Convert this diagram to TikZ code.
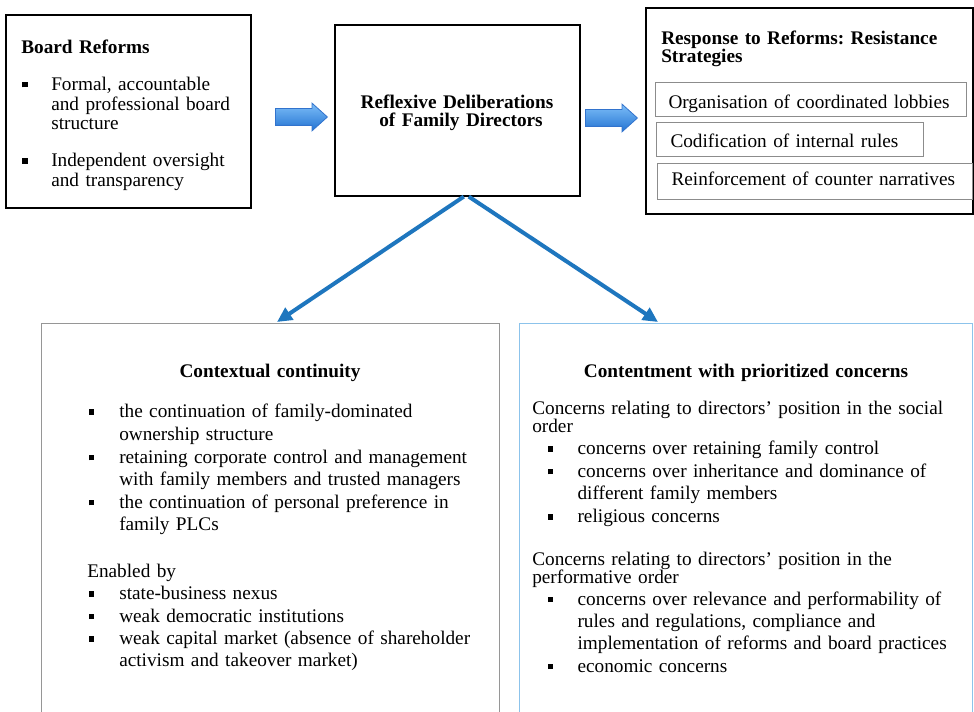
\documentclass[tikz,border=0pt]{standalone}
\usepackage{fontspec}
\setmainfont{Liberation Serif}
\usetikzlibrary{arrows.meta,shapes.arrows,calc}

\newlength\pxu
\setlength\pxu{0.75pt}
\definecolor{linkblue}{RGB}{30,118,190}
\definecolor{framegray}{RGB}{150,150,150}
\definecolor{innergray}{RGB}{140,140,140}
\definecolor{frameblue}{RGB}{140,195,235}
\definecolor{blocktop}{RGB}{125,190,248}
\definecolor{blockbottom}{RGB}{35,115,210}
\definecolor{blockedge}{RGB}{50,115,205}

% square bullet hanging to the left of an item's first line
\newcommand\sqbullet[1]{\leavevmode\llap{\rule[3\pxu]{5.5\pxu}{5.5\pxu}\hspace{#1}}}

\begin{document}
\frenchspacing
\begin{tikzpicture}[x=0.75pt, y=-0.75pt,
  frame/.style={draw=black, line width=1.2pt, anchor=north west, inner sep=0pt},
  softframe/.style={draw=framegray, line width=0.9pt, anchor=north west, inner sep=0pt},
  blueframe/.style={draw=frameblue, line width=0.9pt, anchor=north west, inner sep=0pt},
  txt/.style={anchor=base west, inner sep=0pt, text width=430\pxu, align=left,
    font=\fontsize{14.45}{16.7}\selectfont},
  head/.style={txt, font=\bfseries\fontsize{14.45}{13.3}\selectfont},
  chead/.style={anchor=base, inner sep=0pt, text width=440\pxu, align=center,
    font=\bfseries\fontsize{14.45}{13.5}\selectfont},
  tight/.style={font=\fontsize{14.45}{14.8}\selectfont},
  tighter/.style={font=\fontsize{14.45}{13.5}\selectfont},
  wide/.style={font=\fontsize{14.45}{16.75}\selectfont},
  stratbox/.style={draw=innergray, line width=0.75pt, anchor=base west, inner ysep=0pt,
    align=left, font=\fontsize{14.45}{16.7}\selectfont},
  blockarrow/.style={single arrow, draw=blockedge, line width=0.6pt,
    top color=blocktop, bottom color=blockbottom, anchor=tail,
    inner xsep=0pt, inner ysep=6pt,
    minimum height=39pt, minimum width=20.25pt,
    single arrow head extend=4.1pt, single arrow tip angle=84},
  linkarrow/.style={draw=linkblue, line width=3pt,
    -{Triangle[length=11.25pt, width=10.5pt]}}
]
\useasboundingbox (0,0) rectangle (974,712);
\clip (0,0) rectangle (974,712);

% ---------- frames ----------
\node[frame, minimum width=183.75pt, minimum height=144.75pt] (br) at (5,14) {};
\node[frame, minimum width=183.75pt, minimum height=128.25pt] (ctr) at (334,24) {};
\node[frame, minimum width=245.25pt, minimum height=154.5pt] (resp) at (645,7) {};
\node[softframe, minimum width=343.5pt, minimum height=315pt] (cc) at (41,323) {};
\node[blueframe, minimum width=339.75pt, minimum height=315pt] (cp) at (519,323) {};

% ---------- board reforms ----------
\node[head] (brT) at (21,54) {Board Reforms};
\node[txt, tight] (br1) at (51,90.5) {\sqbullet{23.5\pxu}Formal, accountable\\and professional board\\structure};
\node[txt, tight] (br2) at (51,166.7) {\sqbullet{23.5\pxu}Independent oversight\\and transparency};

% ---------- reflexive deliberations ----------
\node[chead] (ctrT) at (457,109) {Reflexive Deliberations\\\hspace*{8\pxu}of Family Directors};

% ---------- resistance strategies ----------
\node[head] (respT) at (661,45) {Response to Reforms: Resistance\\Strategies};
\node[stratbox, inner xsep=9.75pt, text width=213.75pt, text height=18.98pt, text depth=5.78pt]
  (s1) at (655,108.3) {\mbox{Organisation of coordinated lobbies}};
\node[stratbox, inner xsep=10.5pt, text width=179.25pt, text height=18.53pt, text depth=6.23pt]
  (s2) at (656,147.7) {\mbox{Codification of internal rules}};
\node[stratbox, inner xsep=10.5pt, text width=215.25pt, text height=16.28pt, text depth=9.98pt]
  (s3) at (657,185.7) {\mbox{Reinforcement of counter narratives}};

% ---------- block arrows ----------
\node[blockarrow] (ar1) at (275,117) {};
\node[blockarrow] (ar2) at (585,118) {};

% ---------- diverging arrows ----------
\coordinate (from1) at ($(ctr.south)+(6.5,0)$);
\coordinate (from2) at ($(ctr.south)+(11.5,0)$);
\coordinate (to1) at ($(cc.north west)+(236,-1)$);
\coordinate (to2) at ($(cp.north west)+(139,-1)$);
\draw[linkarrow] (from1) -- (to1);
\draw[linkarrow] (from2) -- (to2);

% ---------- contextual continuity ----------
\node[chead] (ccT) at (270,378) {Contextual continuity};
\node[txt, wide] (cc1) at (119,418) {\sqbullet{25\pxu}the continuation of family-dominated\\ownership structure};
\node[txt, wide] (cc2) at (119,463.5) {\sqbullet{25\pxu}retaining corporate control and management\\with family members and trusted managers};
\node[txt, wide] (cc3) at (119,508.5) {\sqbullet{25\pxu}the continuation of personal preference in\\family PLCs};
\node[txt] (ccE) at (87,577) {Enabled by};
\node[txt] (cc4) at (119,599.5) {\sqbullet{25\pxu}state-business nexus};
\node[txt] (cc5) at (119,622) {\sqbullet{25\pxu}weak democratic institutions};
\node[txt, wide] (cc6) at (119,644.5) {\sqbullet{25\pxu}weak capital market (absence of shareholder\\activism and takeover market)};

% ---------- contentment with prioritized concerns ----------
\node[chead] (cpT) at (746,378) {Contentment with prioritized concerns};
\node[txt, tighter] (cpA) at (532,415) {Concerns relating to directors’ position in the social\\order};
\node[txt, wide] (cp1) at (577.3,455) {\sqbullet{24.5\pxu}concerns over retaining family control};
\node[txt, wide] (cp2) at (577.3,477.5) {\sqbullet{24.5\pxu}concerns over inheritance and dominance of\\different family members};
\node[txt, wide] (cp3) at (577.3,522.5) {\sqbullet{24.5\pxu}religious concerns};
\node[txt, tighter] (cpB) at (532,565) {Concerns relating to directors’ position in the\\performative order};
\node[txt, wide] (cp4) at (577.3,605) {\sqbullet{24.5\pxu}concerns over relevance and performability of\\rules and regulations, compliance and\\implementation of reforms and board practices};
\node[txt, wide] (cp5) at (577.3,672) {\sqbullet{24.5\pxu}economic concerns};
\end{tikzpicture}
\end{document}
